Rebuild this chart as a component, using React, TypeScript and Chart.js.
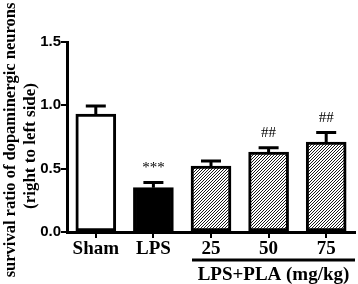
import { useEffect, useRef } from "react";
import { Chart, registerables } from "chart.js";

Chart.register(...registerables);

const categories = ["Sham", "LPS", "25", "50", "75"];
const means = [0.93, 0.35, 0.52, 0.63, 0.71];
const sems = [0.065, 0.04, 0.04, 0.035, 0.075];
const marks = ["", "***", "", "##", "##"];
const yTicks = [0, 0.5, 1.0, 1.5];
const yTitle = ["survival ratio of dopaminergic neurons", "(right to left side)"];
const groupLabel = "LPS+PLA (mg/kg)";
const groupStart = 2;

function makeHatch(): CanvasPattern | string {
  const n = 3;
  const c = document.createElement("canvas");
  c.width = n;
  c.height = n;
  const g = c.getContext("2d");
  if (!g) return "#888";
  g.fillStyle = "#fff";
  g.fillRect(0, 0, n, n);
  g.strokeStyle = "#000";
  g.lineWidth = 0.9;
  g.beginPath();
  g.moveTo(-1, 1);
  g.lineTo(1, -1);
  g.moveTo(0, n);
  g.lineTo(n, 0);
  g.moveTo(n - 1, n + 1);
  g.lineTo(n + 1, n - 1);
  g.stroke();
  const p = g.createPattern(c, "repeat");
  return p || "#888";
}

export default function App() {
  const ref = useRef<HTMLCanvasElement | null>(null);

  useEffect(() => {
    const canvas = ref.current;
    if (!canvas) return;
    const hatch = makeHatch();
    const fills = ["#ffffff", "#000000", hatch, hatch, hatch];

    const overlay = {
      id: "overlay",
      afterDatasetsDraw(chart: any) {
        const ctx = chart.ctx as CanvasRenderingContext2D;
        const xs = chart.scales.x;
        const ys = chart.scales.y;
        ctx.save();
        ctx.strokeStyle = "#000";
        ctx.fillStyle = "#000";
        ctx.lineWidth = 3;
        means.forEach((m, i) => {
          const x = xs.getPixelForValue(i);
          const yb = ys.getPixelForValue(m);
          const yt = ys.getPixelForValue(m + sems[i]);
          ctx.beginPath();
          ctx.moveTo(x, yb);
          ctx.lineTo(x, yt);
          ctx.moveTo(x - 10, yt);
          ctx.lineTo(x + 10, yt);
          ctx.stroke();
          if (marks[i]) {
            ctx.font = "15px 'Liberation Serif'";
            ctx.textAlign = "center";
            ctx.textBaseline = "middle";
            ctx.fillText(marks[i], x, yt - 15);
          }
        });
        // group label
        const half = (xs.getPixelForValue(1) - xs.getPixelForValue(0)) / 2;
        const gx0 = xs.getPixelForValue(groupStart) - 19;
        const gx1 = xs.getPixelForValue(categories.length - 1) + half;
        ctx.beginPath();
        ctx.moveTo(gx0, 260);
        ctx.lineTo(gx1, 260);
        ctx.stroke();
        ctx.font = "bold 19px 'Liberation Serif'";
        ctx.textAlign = "center";
        ctx.textBaseline = "middle";
        ctx.fillText(groupLabel, (gx0 + gx1) / 2, 275);
        // y title
        ctx.textBaseline = "alphabetic";
        ctx.font = "bold 16.5px 'Liberation Serif'";
        ctx.save();
        ctx.translate(15, 140);
        ctx.rotate(-Math.PI / 2);
        ctx.fillText(yTitle[0], 0, 0);
        ctx.restore();
        ctx.font = "bold 17px 'Liberation Serif'";
        ctx.save();
        ctx.translate(35, 146);
        ctx.rotate(-Math.PI / 2);
        ctx.fillText(yTitle[1], 0, 0);
        ctx.restore();
        ctx.restore();
      },
    };

    const chart = new Chart(canvas, {
      type: "bar",
      data: {
        labels: categories,
        datasets: [
          {
            data: means,
            backgroundColor: fills as any,
            borderColor: "#000",
            borderWidth: 3,
            borderSkipped: false,
            barThickness: 40,
          },
        ],
      },
      options: {
        animation: false,
        responsive: false,
        devicePixelRatio: 1,
        layout: { padding: { top: 42, right: 3, left: 0, bottom: 0 } },
        plugins: {
          legend: { display: false },
          tooltip: { enabled: false },
          title: { display: false },
        },
        scales: {
          x: {
            offset: true,
            grid: {
              display: true,
              drawOnChartArea: false,
              offset: false,
              tickLength: 6,
              lineWidth: 2,
              color: "#000",
            },
            border: { display: true, color: "#000", width: 3 },
            ticks: {
              color: "#000",
              padding: 0,
              font: { family: "'Liberation Serif'", size: 19, weight: "bold" },
            },
            afterFit: (s: any) => {
              s.height = 52;
            },
          },
          y: {
            min: 0,
            max: 1.5,
            afterBuildTicks: (s: any) => {
              s.ticks = yTicks.map((v) => ({ value: v }));
            },
            grid: {
              display: true,
              drawOnChartArea: false,
              tickLength: 6,
              lineWidth: 2,
              color: "#000",
            },
            border: { display: true, color: "#000", width: 3 },
            ticks: {
              color: "#000",
              padding: 0,
              font: { family: "'Liberation Sans'", size: 15, weight: "bold" },
              callback: (v: any) => Number(v).toFixed(1),
            },
            afterFit: (s: any) => {
              s.width = 67;
            },
          },
        },
      },
      plugins: [overlay],
    });
    return () => chart.destroy();
  }, []);

  return (
    <div style={{ position: "fixed", left: 0, top: 0, width: 358, height: 284, background: "#fff" }}>
      <canvas ref={ref} width={358} height={284} style={{ width: 358, height: 284, display: "block" }} />
    </div>
  );
}
